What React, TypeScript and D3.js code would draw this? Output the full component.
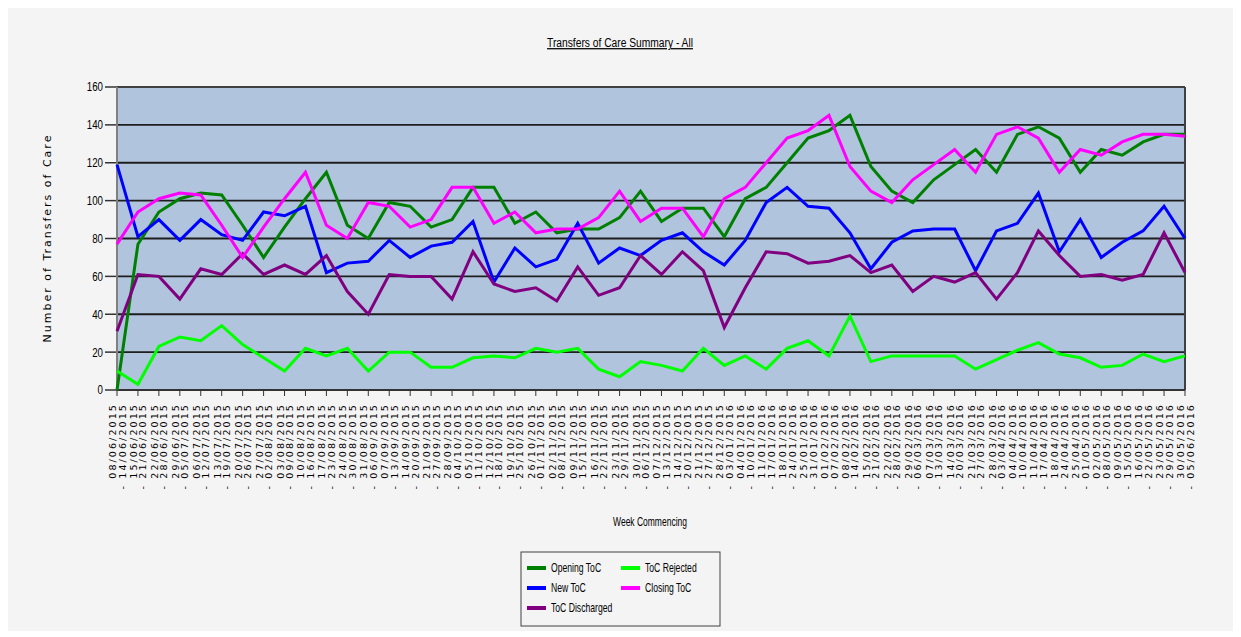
import React from 'react';
import * as d3 from 'd3';

// week commencing dates (dd/mm/yyyy)
const weekStarts = [
  '08/06/2015', '15/06/2015', '22/06/2015', '29/06/2015', '06/07/2015', '13/07/2015', '20/07/2015', '27/07/2015',
  '03/08/2015', '10/08/2015', '17/08/2015', '24/08/2015', '31/08/2015', '07/09/2015', '14/09/2015', '21/09/2015',
  '28/09/2015', '05/10/2015', '12/10/2015', '19/10/2015', '26/10/2015', '02/11/2015', '09/11/2015', '16/11/2015',
  '23/11/2015', '30/11/2015', '07/12/2015', '14/12/2015', '21/12/2015', '28/12/2015', '04/01/2016', '11/01/2016',
  '18/01/2016', '25/01/2016', '01/02/2016', '08/02/2016', '15/02/2016', '22/02/2016', '29/02/2016', '07/03/2016',
  '14/03/2016', '21/03/2016', '28/03/2016', '04/04/2016', '11/04/2016', '18/04/2016', '25/04/2016', '02/05/2016',
  '09/05/2016', '16/05/2016', '23/05/2016', '30/05/2016',
];

const openingToC = [0, 77, 94, 101, 104, 103, 87, 70, 86, 101, 115, 87, 80, 99, 97, 86, 90, 107, 107, 88, 94, 83, 85, 85, 91, 105,
  89, 96, 96, 81, 101, 107, 120, 133, 137, 145, 118, 105, 99, 111, 119, 127, 115, 135, 139, 133, 115, 127, 124, 131, 135, 135];
const newToC = [119, 81, 90, 79, 90, 82, 79, 94, 92, 97, 62, 67, 68, 79, 70, 76, 78, 89, 57, 75, 65, 69, 88, 67, 75, 71,
  79, 83, 73, 66, 79, 99, 107, 97, 96, 83, 64, 78, 84, 85, 85, 63, 84, 88, 104, 73, 90, 70, 78, 84, 97, 80];
const tocRejected = [10, 3, 23, 28, 26, 34, 24, 17, 10, 22, 18, 22, 10, 20, 20, 12, 12, 17, 18, 17, 22, 20, 22, 11, 7, 15,
  13, 10, 22, 13, 18, 11, 22, 26, 18, 39, 15, 18, 18, 18, 18, 11, 16, 21, 25, 19, 17, 12, 13, 19, 15, 18];
const tocDischarged = [31, 61, 60, 48, 64, 61, 72, 61, 66, 61, 71, 52, 40, 61, 60, 60, 48, 73, 56, 52, 54, 47, 65, 50, 54, 71,
  61, 73, 63, 33, 54, 73, 72, 67, 68, 71, 62, 66, 52, 60, 57, 62, 48, 62, 84, 71, 60, 61, 58, 61, 83, 62];
const closingToC = [77, 94, 101, 104, 103, 87, 70, 86, 101, 115, 87, 80, 99, 97, 86, 90, 107, 107, 88, 94, 83, 85, 85, 91, 105, 89,
  96, 96, 81, 101, 107, 120, 133, 137, 145, 118, 105, 99, 111, 119, 127, 115, 135, 139, 133, 115, 127, 124, 131, 135, 135, 134];

const yTicks = [0, 20, 40, 60, 80, 100, 120, 140, 160];

const series = [
  { name: 'Opening ToC', values: openingToC, color: '#008000' },
  { name: 'New ToC', values: newToC, color: '#0000ff' },
  { name: 'ToC Discharged', values: tocDischarged, color: '#800080' },
  { name: 'ToC Rejected', values: tocRejected, color: '#00ff00' },
  { name: 'Closing ToC', values: closingToC, color: '#ff00ff' },
];
// legend layout order (row by row, two columns)
const legendOrder = ['Opening ToC', 'ToC Rejected', 'New ToC', 'Closing ToC', 'ToC Discharged'];

const W = 1241;
const H = 637;
const plot = { left: 117, right: 1185, top: 87, bottom: 390 };
const sans = '"Liberation Sans", Arial, sans-serif';
const wide = "'DejaVu Sans', Verdana, sans-serif";

const parse = d3.timeParse('%d/%m/%Y');
const fmt = d3.timeFormat('%d/%m/%Y');

// condensed text: no narrow font installed, so squeeze Liberation Sans horizontally
const NText: React.FC<{ x: number; y: number; anchor?: string; dy?: string; sx?: number; underline?: boolean; children: React.ReactNode }> =
  ({ x, y, anchor = 'start', dy, sx = 0.82, underline, children }) => (
    <text transform={`translate(${x},${y}) scale(${sx},1)`} textAnchor={anchor} dy={dy} fontFamily={sans}
      fontSize={12.5} fill="#000" textDecoration={underline ? 'underline' : undefined}>{children}</text>
  );

const App: React.FC = () => {
  const x = d3.scalePoint<string>().domain(weekStarts).range([plot.left, plot.right]);
  const y = d3.scaleLinear().domain([0, 160]).range([plot.bottom, plot.top]);

  const line = d3.line<number>()
    .x((_, i) => x(weekStarts[i]) as number)
    .y(d => y(d));

  return (
    <svg width={W} height={H} style={{ position: 'absolute', left: 0, top: 0 }}>
      <rect x={0} y={0} width={W} height={H} fill="#ffffff" />
      <rect x={8} y={8} width={W - 16} height={H - 14} fill="#f4f4f4" />

      {/* title */}
      <NText x={620} y={47} anchor="middle" underline>Transfers of Care Summary - All</NText>

      {/* plot area */}
      <rect x={plot.left} y={plot.top} width={plot.right - plot.left} height={plot.bottom - plot.top} fill="#b0c4de" />

      {/* grid + y ticks */}
      {yTicks.map(t => (
        <g key={t}>
          {t > 0 && <line x1={plot.left} x2={plot.right} y1={y(t)} y2={y(t)} stroke="#1e1e1e" strokeWidth={1.8} />}
          <line x1={105} x2={plot.left} y1={y(t)} y2={y(t)} stroke="#333" strokeWidth={1.5} />
          <NText x={103} y={y(t)} dy="0.35em" anchor="end" sx={0.78}>{t}</NText>
        </g>
      ))}

      {/* frame */}
      <line x1={plot.left} x2={plot.right} y1={plot.top} y2={plot.top} stroke="#404040" strokeWidth={2} />
      <line x1={plot.right} x2={plot.right} y1={plot.top} y2={plot.bottom} stroke="#404040" strokeWidth={2} />
      <line x1={plot.left} x2={plot.right} y1={plot.bottom} y2={plot.bottom} stroke="#333" strokeWidth={2} />
      <line x1={plot.left} x2={plot.left} y1={plot.top} y2={plot.bottom} stroke="#808080" strokeWidth={2} />

      {/* x ticks and labels */}
      {weekStarts.map(ws => {
        const px = x(ws) as number;
        const end = fmt(d3.timeDay.offset(parse(ws) as Date, 6));
        return (
          <g key={ws}>
            <line x1={px} x2={px} y1={plot.bottom} y2={plot.bottom + 6} stroke="#333" strokeWidth={1} />
            <text transform={`translate(${px},403) rotate(-90)`} textAnchor="end" fontFamily={wide}
              fontSize={9.5} letterSpacing={2.1} fill="#000">
              <tspan x={0} y={-4.5} dominantBaseline="central">{ws}</tspan>
              <tspan x={0} y={5} dominantBaseline="central">{'- ' + end}</tspan>
            </text>
          </g>
        );
      })}

      {/* series */}
      {series.map(s => (
        <path key={s.name} d={line(s.values) as string} fill="none" stroke={s.color} strokeWidth={3}
          strokeLinejoin="miter" />
      ))}

      {/* axis titles */}
      <text transform="translate(51,238) rotate(-90)" textAnchor="middle" fontFamily={wide}
        fontSize={11} letterSpacing={2} fill="#000">Number of Transfers of Care</text>
      <NText x={650} y={526} anchor="middle" sx={0.68}>Week Commencing</NText>

      {/* legend */}
      <rect x={521} y={552} width={199} height={74} fill="#f4f4f4" stroke="#404040" strokeWidth={1} />
      {legendOrder.map((name, i) => {
        const s = series.find(d => d.name === name)!;
        const col = i % 2;
        const row = Math.floor(i / 2);
        const lx = 527 + col * 94;
        const ly = 568 + row * 20;
        return (
          <g key={name}>
            <line x1={lx} x2={lx + 19} y1={ly} y2={ly} stroke={s.color} strokeWidth={4} />
            <NText x={lx + 24} y={ly} dy="0.35em" sx={0.69}>{name}</NText>
          </g>
        );
      })}
    </svg>
  );
};

export default App;
